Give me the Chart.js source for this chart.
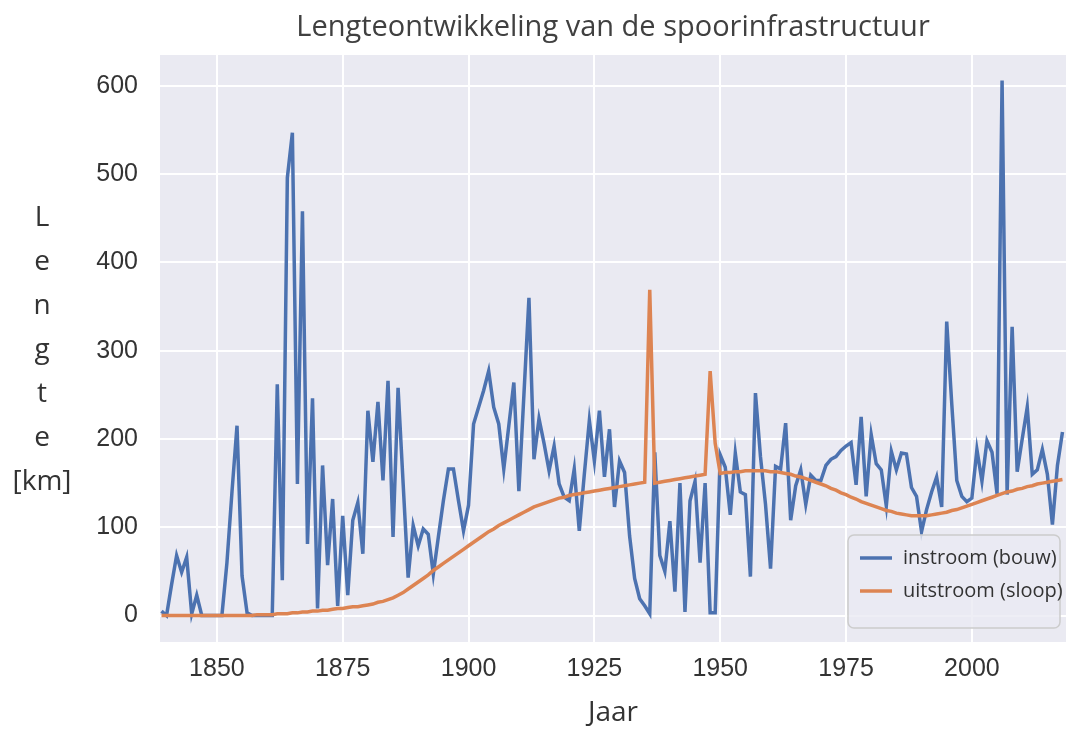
<!DOCTYPE html>
<html>
<head>
<meta charset="utf-8">
<title>Lengteontwikkeling van de spoorinfrastructuur</title>
<script src="https://cdn.jsdelivr.net/npm/chart.js@4/dist/chart.umd.min.js"></script>
<style>
  html, body { margin: 0; padding: 0; background: #fff; }
  #wrap { width: 1066px; height: 730px; }
</style>
</head>
<body>
<div id="wrap"><canvas id="lineChart" width="1066" height="730"></canvas></div>
<script>
// jaarlijkse waarden in km, vanaf 1839
const firstYear = 1839;

const instroom = [
    5,                                              // 1839
    0, 35, 68, 49, 66, 2, 23, 0, 0, 0,              // 1840
    0, 0, 60, 140, 215, 45, 3, 0, 0, 0,             // 1850
    0, 0, 262, 40, 496, 547, 149, 458, 81, 246,     // 1860
    8, 170, 57, 132, 11, 113, 23, 108, 128, 70,     // 1870
    232, 174, 242, 153, 266, 89, 258, 150, 43, 102, // 1880
    79, 98, 92, 47, 89, 130, 166, 166, 130, 96,     // 1890
    125, 217, 236, 255, 277, 236, 217, 166, 215, 264, // 1900
    141, 250, 360, 177, 223, 195, 164, 192, 149, 134, // 1910
    130, 166, 96, 160, 221, 175, 232, 157, 211, 123,  // 1920
    175, 162, 90, 42, 19, 11, 2, 185, 68, 50,       // 1930
    107, 27, 150, 4, 130, 152, 60, 150, 3, 3,       // 1940
    182, 168, 114, 184, 140, 137, 44, 252, 180, 126, // 1950
    53, 169, 166, 218, 108, 147, 165, 126, 159, 153, // 1960
    153, 170, 177, 180, 187, 192, 196, 148, 225, 135, // 1970
    205, 172, 165, 124, 186, 165, 184, 183, 145, 135, // 1980
    95, 120, 140, 157, 123, 333, 240, 153, 135, 129,  // 1990
    133, 188, 152, 198, 185, 138, 606, 137, 327, 163, // 2000
    200, 236, 160, 165, 188, 160, 103, 170, 208       // 2010
];

const uitstroom = [
    0,                                              // 1839
    0, 0, 0, 0, 0, 0, 0, 0, 0, 0,                   // 1840
    0, 0, 0, 0, 0, 0, 0, 0, 1, 1,                   // 1850
    1, 1, 2, 2, 2, 3, 3, 4, 4, 5,                   // 1860
    5, 6, 6, 7, 8, 8, 9, 10, 10, 11,                // 1870
    12, 13, 15, 16, 18, 20, 23, 26, 30, 34,         // 1880
    38, 42, 46, 51, 55, 59, 63, 67, 71, 75,         // 1890
    79, 83, 87, 91, 95, 98, 102, 105, 108, 111,     // 1900
    114, 117, 120, 123, 125, 127, 129, 131, 133, 134, // 1910
    136, 137, 138, 139, 140, 141, 142, 143, 144, 145, // 1920
    146, 147, 148, 149, 150, 151, 369, 150, 151, 152, // 1930
    153, 154, 155, 156, 157, 158, 159, 160, 277, 195, // 1940
    161, 162, 162, 163, 163, 164, 164, 164, 164, 164, // 1950
    163, 163, 162, 161, 160, 158, 157, 155, 153, 151, // 1960
    149, 147, 144, 142, 139, 137, 134, 132, 129, 127, // 1970
    125, 123, 121, 119, 118, 116, 115, 114, 113, 113, // 1980
    113, 113, 114, 115, 116, 117, 119, 120, 122, 124, // 1990
    126, 128, 130, 132, 134, 136, 138, 140, 141, 143, // 2000
    144, 146, 147, 149, 150, 151, 152, 153, 154       // 2010
];

const xTicks = [1850, 1875, 1900, 1925, 1950, 1975, 2000];
const yTicks = [0, 100, 200, 300, 400, 500, 600];
const yLabel = ["L", "e", "n", "g", "t", "e", "[km]"];
const seriesNames = ["instroom (bouw)", "uitstroom (sloop)"];
const seriesColors = ["#4C72B0", "#DD8452"];

const years = instroom.map((_, i) => firstYear + i);
const toPoints = arr => arr.map((v, i) => ({ x: years[i], y: v }));

const tickFont = { family: "'Liberation Sans', Arial, sans-serif", size: 25 };
const textFont = "'Open Sans', sans-serif";

// grijze plotachtergrond, verticaal aslabel en legenda binnen de grafiek
const seabornLook = {
    id: "seabornLook",
    beforeDraw(chart) {
        const { ctx, chartArea: a } = chart;
        ctx.save();
        ctx.fillStyle = "#EAEAF2";
        ctx.fillRect(a.left, a.top, a.right - a.left, a.bottom - a.top);
        ctx.restore();
    },
    afterDraw(chart) {
        const ctx = chart.ctx;
        ctx.save();
        ctx.fillStyle = "#333";
        ctx.font = "28px " + textFont;
        ctx.textAlign = "center";
        ctx.textBaseline = "alphabetic";
        yLabel.forEach((t, i) => ctx.fillText(t, 42, 226 + i * 44));

        // legenda
        ctx.beginPath();
        ctx.roundRect(848, 535, 212, 93, 6);
        ctx.fillStyle = "rgba(234, 234, 242, 0.8)";
        ctx.fill();
        ctx.strokeStyle = "#CCCCCC";
        ctx.lineWidth = 1.5;
        ctx.stroke();
        ctx.font = "20px " + textFont;
        ctx.textAlign = "left";
        ctx.textBaseline = "middle";
        seriesNames.forEach((name, i) => {
            const y = 558 + i * 33;
            ctx.strokeStyle = seriesColors[i];
            ctx.lineWidth = 3.5;
            ctx.beginPath();
            ctx.moveTo(860, y);
            ctx.lineTo(892, y);
            ctx.stroke();
            ctx.fillStyle = "#333";
            ctx.fillText(name, 903, y);
        });
        ctx.restore();
    }
};

const ctx = document.getElementById("lineChart").getContext("2d");
new Chart(ctx, {
    type: "line",
    data: {
        datasets: [
            {
                label: seriesNames[0],
                data: toPoints(instroom),
                borderColor: seriesColors[0],
                order: 2,
            },
            {
                label: seriesNames[1],
                data: toPoints(uitstroom),
                borderColor: seriesColors[1],
                order: 1,
            },
        ],
    },
    options: {
        responsive: false,
        animation: false,
        layout: { padding: 0 },
        elements: {
            point: { radius: 0 },
            line: { borderWidth: 3.5, tension: 0 },
        },
        plugins: {
            legend: { display: false },
            tooltip: { enabled: false },
            title: {
                display: true,
                text: "Lengteontwikkeling van de spoorinfrastructuur",
                fullSize: false,
                color: "#404040",
                font: { family: textFont, size: 29, weight: "normal" },
                padding: { top: 10, bottom: 10.2 },
            },
        },
        scales: {
            x: {
                type: "linear",
                min: 1838.7,
                max: 2018.7,
                afterBuildTicks: s => { s.ticks = xTicks.map(v => ({ value: v })); },
                afterFit: s => { s.height = 88; s.paddingLeft = 0; s.paddingRight = 0; },
                grid: { color: "#FFFFFF", lineWidth: 2, drawTicks: false },
                border: { display: false },
                ticks: { padding: 12, color: "#333", font: tickFont, callback: v => String(v) },
                title: {
                    display: true,
                    text: "Jaar",
                    color: "#333",
                    font: { family: textFont, size: 28 },
                    padding: { top: 0, bottom: 0 },
                },
            },
            y: {
                min: -30,
                max: 635,
                afterBuildTicks: s => { s.ticks = yTicks.map(v => ({ value: v })); },
                afterFit: s => { s.width = 160; s.paddingTop = 0; s.paddingBottom = 0; },
                grid: { color: "#FFFFFF", lineWidth: 2, drawTicks: false },
                border: { display: false },
                ticks: { padding: 22, color: "#333", font: tickFont, callback: v => String(v) },
            },
        },
    },
    plugins: [seabornLook],
});
</script>
</body>
</html>
